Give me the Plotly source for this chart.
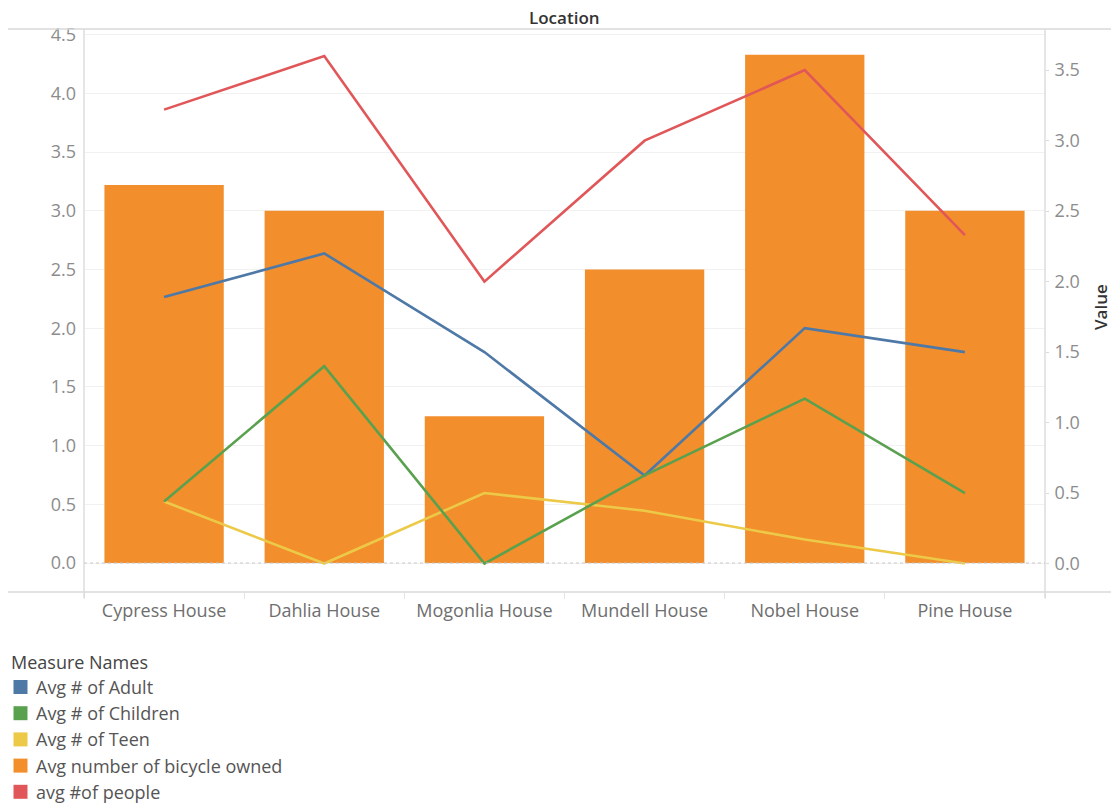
import plotly.graph_objects as go

# ---- data ----
locations = ["Cypress House", "Dahlia House", "Mogonlia House", "Mundell House", "Nobel House", "Pine House"]
bicycles = [3.22, 3.0, 1.25, 2.5, 4.33, 3.0]          # left axis (bars)
avg_adult = [1.89, 2.2, 1.5, 0.625, 1.67, 1.5]        # right axis (lines)
avg_children = [0.44, 1.4, 0.0, 0.625, 1.17, 0.5]
avg_teen = [0.44, 0.0, 0.5, 0.375, 0.17, 0.0]
avg_people = [3.22, 3.6, 2.0, 3.0, 3.5, 2.33]

legend_names = ["Avg # of Adult", "Avg # of Children", "Avg # of Teen",
                "Avg number of bicycle owned", "avg #of people"]
legend_colors = ["#4e79a7", "#59a14f", "#edc948", "#f28e2b", "#e15759"]
left_ticks = [0.0, 0.5, 1.0, 1.5, 2.0, 2.5, 3.0, 3.5, 4.0, 4.5]
right_ticks = [0.0, 0.5, 1.0, 1.5, 2.0, 2.5, 3.0, 3.5]

# ---- geometry (page margin removed via post_script, figure fills the window) ----
W, H = 1111, 804
ML, MR, MT, MB = 84, 66, 30, 212
PW, PH = W - ML - MR, H - MT - MB


def px(x):
    """screen x -> paper x"""
    return (x - ML) / PW


def py(y):
    """screen y -> paper y"""
    return (H - MB - y) / PH


FONT = "Open Sans"
TICK_GRAY = "#8c8c8c"
LABEL_GRAY = "#6e6e6e"
DARK = "#333333"

fig = go.Figure()

fig.add_trace(go.Bar(
    x=locations, y=bicycles, name=legend_names[3], yaxis="y",
    marker=dict(color=legend_colors[3], line=dict(width=0)),
    width=0.745, showlegend=False, hoverinfo="skip",
))

line_series = [
    (avg_people, legend_names[4], legend_colors[4]),
    (avg_adult, legend_names[0], legend_colors[0]),
    (avg_teen, legend_names[2], legend_colors[2]),
    (avg_children, legend_names[1], legend_colors[1]),
]
for vals, name, col in line_series:
    fig.add_trace(go.Scatter(
        x=locations, y=vals, name=name, yaxis="y2", mode="lines",
        line=dict(color=col, width=2.6), showlegend=False, hoverinfo="skip",
    ))

shapes = [
    # header line
    dict(type="line", xref="paper", yref="paper", x0=px(8), x1=px(1111), y0=py(29), y1=py(29),
         line=dict(color="#d9d9d9", width=1.5)),
    # bottom axis line
    dict(type="line", xref="paper", yref="paper", x0=px(8), x1=px(1111), y0=0, y1=0,
         line=dict(color="#d9d9d9", width=1.5)),
    # left / right axis lines
    dict(type="line", xref="paper", yref="paper", x0=0, x1=0, y0=py(598), y1=py(29),
         line=dict(color="#dddddd", width=1.5)),
    dict(type="line", xref="paper", yref="paper", x0=1, x1=1, y0=py(598), y1=py(29),
         line=dict(color="#dddddd", width=1.5)),
    # dotted zero line
    dict(type="line", xref="paper", yref="y", x0=0, x1=1, y0=0, y1=0,
         line=dict(color="#c8c8c8", width=1, dash="dot")),
]

annotations = [
    dict(text="Location", xref="paper", yref="paper", x=px(564), y=py(17),
         xanchor="center", yanchor="middle", showarrow=False,
         font=dict(family=FONT, size=17, color=DARK, weight=600)),
    dict(text="Value", xref="paper", yref="paper", x=px(1100), y=py(307),
         xanchor="center", yanchor="middle", showarrow=False, textangle=-90,
         font=dict(family=FONT, size=17, color=DARK, weight=600)),
    dict(text="Measure Names", xref="paper", yref="paper", x=px(9), y=py(662),
         xanchor="left", yanchor="middle", showarrow=False,
         font=dict(family=FONT, size=18, color="#444444")),
]

item_y0, item_step = 687, 26.2
for i, (name, col) in enumerate(zip(legend_names, legend_colors)):
    yc = item_y0 + i * item_step
    shapes.append(dict(type="rect", xref="paper", yref="paper",
                       x0=px(13.5), x1=px(27.5), y0=py(yc + 7), y1=py(yc - 7),
                       fillcolor=col, line=dict(width=0)))
    annotations.append(dict(text=name, xref="paper", yref="paper", x=px(34), y=py(yc),
                            xanchor="left", yanchor="middle", showarrow=False,
                            font=dict(family=FONT, size=18, color="#555555")))

fig.update_layout(
    width=W, height=H,
    margin=dict(l=ML, r=MR, t=MT, b=MB, pad=0),
    paper_bgcolor="white", plot_bgcolor="white",
    showlegend=False,
    font=dict(family=FONT, size=18, color=LABEL_GRAY),
    xaxis=dict(
        type="category", showgrid=False, zeroline=False, showline=False,
        ticks="outside", tickson="boundaries", ticklen=6, tickcolor="#e3e3e3",
        ticklabelstandoff=6,
        tickfont=dict(family=FONT, size=18, color=LABEL_GRAY),
        fixedrange=True,
    ),
    yaxis=dict(
        range=[-0.247, 4.54], tickvals=left_ticks, tickformat=".1f",
        showgrid=True, gridcolor="#f1f1f1", gridwidth=1, zeroline=False, showline=False,
        ticks="", ticklabelstandoff=7,
        tickfont=dict(family=FONT, size=18, color=TICK_GRAY),
    ),
    yaxis2=dict(
        range=[-0.202, 3.785], tickvals=right_ticks, tickformat=".1f",
        overlaying="y", side="right", showgrid=False, zeroline=False, showline=False,
        ticks="outside", ticklen=3, tickcolor="#d9d9d9", ticklabelstandoff=2,
        tickfont=dict(family=FONT, size=18, color=TICK_GRAY),
    ),
    shapes=shapes,
    annotations=annotations,
)

fig.write_html(
    "out.html",
    config={"displayModeBar": False},
    post_script="document.body.style.margin='0';document.body.style.overflow='hidden';",
)
